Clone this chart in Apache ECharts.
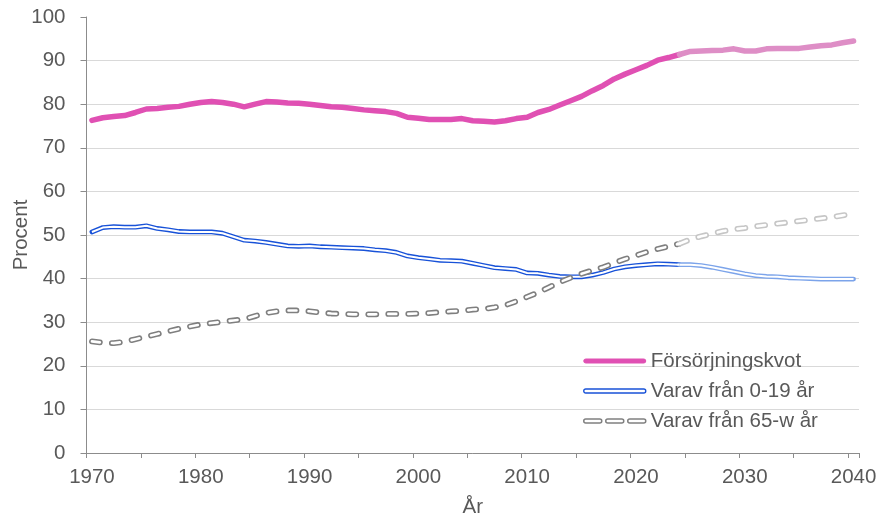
<!DOCTYPE html>
<html>
<head>
<meta charset="utf-8">
<title>Försörjningskvot</title>
<script src="https://cdn.jsdelivr.net/npm/echarts@6/dist/echarts.min.js"></script>
<style>
  html, body { margin: 0; padding: 0; background: #fff; }
  #chart { width: 880px; height: 520px; }
</style>
</head>
<body>
<div id="chart"></div>
<script>
// år (kategorier) och serier
var years = [
  '1970','1971','1972','1973','1974','1975','1976','1977','1978','1979',
  '1980','1981','1982','1983','1984','1985','1986','1987','1988','1989',
  '1990','1991','1992','1993','1994','1995','1996','1997','1998','1999',
  '2000','2001','2002','2003','2004','2005','2006','2007','2008','2009',
  '2010','2011','2012','2013','2014','2015','2016','2017','2018','2019',
  '2020','2021','2022','2023','2024','2025','2026','2027','2028','2029',
  '2030','2031','2032','2033','2034','2035','2036','2037','2038','2039','2040'
];
var lastOutcomeYear = '2024';

var forsorjningskvot = [
  76.3, 76.9, 77.2, 77.4, 78.1, 78.9, 79.0, 79.3, 79.5, 80.0,
  80.4, 80.6, 80.4, 80.0, 79.4, 80.0, 80.6, 80.5, 80.3, 80.2,
  80.0, 79.7, 79.4, 79.3, 79.0, 78.7, 78.5, 78.3, 77.9, 77.0,
  76.8, 76.5, 76.5, 76.5, 76.7, 76.2, 76.1, 75.9, 76.2, 76.7,
  77.0, 78.1, 78.8, 79.8, 80.8, 81.8, 83.1, 84.3, 85.8, 86.9,
  87.9, 88.9, 90.1, 90.7, 91.4, 92.1, 92.2, 92.3, 92.4, 92.7,
  92.2, 92.2, 92.7, 92.8, 92.8, 92.8, 93.1, 93.4, 93.6, 94.1, 94.5
];
var varav0_19 = [
  50.7, 51.7, 51.9, 51.8, 51.8, 52.1, 51.5, 51.2, 50.8, 50.7,
  50.7, 50.7, 50.4, 49.6, 48.8, 48.6, 48.3, 47.9, 47.5, 47.4,
  47.5, 47.3, 47.2, 47.1, 47.0, 46.9, 46.6, 46.4, 46.0, 45.2,
  44.8, 44.5, 44.2, 44.1, 44.0, 43.5, 43.0, 42.5, 42.3, 42.1,
  41.3, 41.2, 40.8, 40.5, 40.4, 40.4, 40.8, 41.4, 42.2, 42.7,
  43.0, 43.2, 43.4, 43.3, 43.2, 43.2, 43.0, 42.6, 42.1, 41.6,
  41.1, 40.7, 40.5, 40.4, 40.2, 40.1, 40.0, 39.9, 39.9, 39.9, 39.9
];
var varav65w = [
  25.6, 25.3, 25.2, 25.5, 26.1, 26.7, 27.3, 27.9, 28.5, 29.0,
  29.5, 29.8, 30.1, 30.4, 30.7, 31.4, 32.1, 32.5, 32.7, 32.7,
  32.5, 32.2, 32.0, 31.9, 31.8, 31.8, 31.8, 31.9, 31.9, 31.9,
  32.0, 32.1, 32.3, 32.5, 32.6, 32.9, 33.0, 33.4, 33.9, 34.8,
  35.8, 36.8, 38.0, 39.2, 40.2, 41.1, 41.9, 42.6, 43.6, 44.5,
  45.3, 46.1, 46.8, 47.4, 48.0, 49.0, 49.7, 50.3, 50.9, 51.3,
  51.6, 52.0, 52.3, 52.6, 52.9, 53.2, 53.5, 53.8, 54.1, 54.5, 54.9
];
var yTicks = { min: 0, max: 100, interval: 10 };

var seriesNames = ['Försörjningskvot', 'Varav från 0-19 år', 'Varav från 65-w år'];

var splitIdx = years.indexOf(lastOutcomeYear);
function outcome(arr) { return arr.map(function (v, i) { return i <= splitIdx ? v : null; }); }
function forecast(arr) { return arr.map(function (v, i) { return i >= splitIdx ? v : null; }); }

function line(name, data, color, width, dash, cap, z) {
  return {
    name: name,
    type: 'line',
    data: data,
    symbol: 'none',
    showSymbol: false,
    connectNulls: false,
    silent: true,
    z: z,
    lineStyle: { color: color, width: width, type: dash || 'solid', cap: cap || 'round', join: 'round' },
    emphasis: { disabled: true }
  };
}

var grayDash = [8, 12];
var textColor = '#595959';
var font = 'Liberation Sans, Arial, sans-serif';

var series = [
  // Försörjningskvot
  line(seriesNames[0], outcome(forsorjningskvot), '#e050b3', 5.5, null, 'round', 2),
  line('_fk_prognos', forecast(forsorjningskvot), '#de8ec6', 5.5, null, 'round', 2),
  // 0-19 år (dubbellinje)
  line(seriesNames[1], outcome(varav0_19), '#1852d8', 4.8, null, 'round', 3),
  line('_u_inner', outcome(varav0_19), '#ffffff', 2.0, null, 'butt', 4),
  line('_u_prognos', forecast(varav0_19), '#7ca4ea', 4.8, null, 'round', 3),
  line('_u_prognos_inner', forecast(varav0_19), '#ffffff', 2.0, null, 'butt', 4),
  // 65-w år (streckad konturlinje)
  line(seriesNames[2], outcome(varav65w), '#7f7f7f', 5.8, grayDash, 'round', 5),
  line('_o_inner', outcome(varav65w), '#ffffff', 2.6, grayDash, 'round', 6),
  line('_o_prognos', forecast(varav65w), '#c6c6c6', 5.8, grayDash, 'round', 5),
  line('_o_prognos_inner', forecast(varav65w), '#ffffff', 2.6, grayDash, 'round', 6)
];

var pillPath = 'path://M2,0L60,0A2,2,0,0,1,60,4L2,4A2,2,0,0,1,2,0Z';
var dashPath = 'path://M2,0L16,0A2,2,0,0,1,16,4L2,4A2,2,0,0,1,2,0Z' +
  'M24,0L38,0A2,2,0,0,1,38,4L24,4A2,2,0,0,1,24,0Z' +
  'M46,0L60,0A2,2,0,0,1,60,4L46,4A2,2,0,0,1,46,0Z';

var chart = echarts.init(document.getElementById('chart'), null, { renderer: 'canvas' });
var option = {
  animation: false,
  backgroundColor: '#ffffff',
  textStyle: { fontFamily: font },
  grid: { left: 86.5, right: 21, top: 17, bottom: 67, containLabel: false, outerBoundsMode: 'none' },
  legend: {
    orient: 'vertical',
    left: 578,
    top: 345,
    itemWidth: 62,
    itemHeight: 4,
    itemGap: 8,
    selectedMode: false,
    textStyle: { color: textColor, fontSize: 20.5, fontFamily: font, lineHeight: 22 },
    data: [
      { name: seriesNames[0], icon: pillPath, itemStyle: { color: '#e050b3', borderColor: '#e050b3', borderWidth: 1 } },
      { name: seriesNames[1], icon: pillPath, itemStyle: { color: '#ffffff', borderColor: '#1852d8', borderWidth: 1.4 } },
      { name: seriesNames[2], icon: dashPath, itemStyle: { color: '#ffffff', borderColor: '#808080', borderWidth: 1.5 } }
    ]
  },
  xAxis: {
    type: 'category',
    data: years,
    boundaryGap: true,
    name: 'År',
    nameLocation: 'middle',
    nameGap: 44,
    nameMoveOverlap: false,
    nameTextStyle: { color: textColor, fontSize: 20.5, fontFamily: font },
    axisLine: { show: true, lineStyle: { color: '#8c8c8c', width: 1 } },
    axisTick: { show: true, interval: 4, alignWithLabel: false, length: 5, lineStyle: { color: '#8c8c8c' } },
    axisLabel: { interval: 9, margin: 14, color: textColor, fontSize: 20.5, fontFamily: font },
    splitLine: { show: false }
  },
  yAxis: {
    type: 'value',
    min: yTicks.min,
    max: yTicks.max,
    interval: yTicks.interval,
    name: 'Procent',
    nameLocation: 'middle',
    nameGap: 55,
    nameRotate: 90,
    nameMoveOverlap: false,
    nameTextStyle: { color: textColor, fontSize: 20.5, fontFamily: font },
    axisLine: { show: true, lineStyle: { color: '#8c8c8c', width: 1 } },
    axisTick: { show: true, length: 6, lineStyle: { color: '#8c8c8c' } },
    axisLabel: { margin: 21, color: textColor, fontSize: 20.5, fontFamily: font },
    splitLine: { show: true, showMaxLine: false, lineStyle: { color: '#d9d9d9', width: 1.2 } }
  },
  series: series
};
chart.setOption(option);
</script>
</body>
</html>
